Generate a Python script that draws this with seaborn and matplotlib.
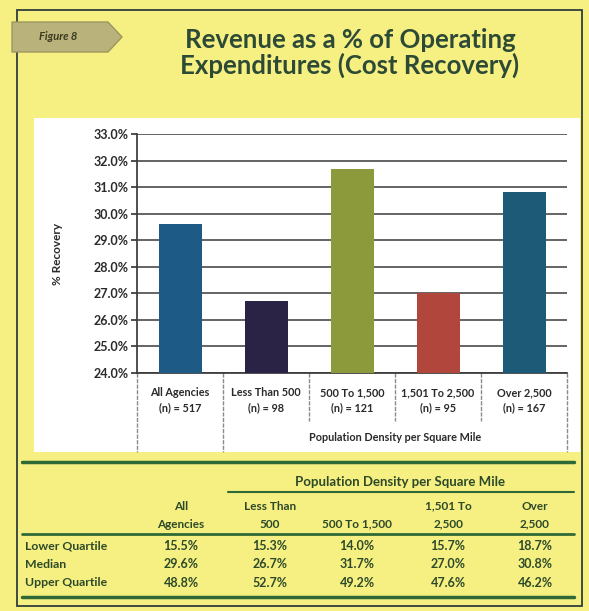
import matplotlib
matplotlib.use("Agg")
import matplotlib.pyplot as plt
from matplotlib.lines import Line2D
from matplotlib.patches import Rectangle, Polygon
import seaborn as sns
import pandas as pd

# ---- data ----
categories = ["All Agencies", "Less Than 500", "500 To 1,500", "1,501 To 2,500", "Over 2,500"]
n_counts = [517, 98, 121, 95, 167]
median_recovery = [29.6, 26.7, 31.7, 27.0, 30.8]
lower_quartile = [15.5, 15.3, 14.0, 15.7, 18.7]
upper_quartile = [48.8, 52.7, 49.2, 47.6, 46.2]
table_headers = [("All", "Agencies"), ("Less Than", "500"), ("", "500 To 1,500"),
                 ("1,501 To", "2,500"), ("Over", "2,500")]
row_names = ["Lower Quartile", "Median", "Upper Quartile"]
bar_colors = ["#1d5a86", "#2a2346", "#8c9a3c", "#b0463c", "#1c5a78"]

df = pd.DataFrame({
    "label": [f"{c}\n(n) = {n}" for c, n in zip(categories, n_counts)],
    "recovery": median_recovery,
})

W, H = 589, 611
sns.set_theme(style="white")
plt.rcParams["font.family"] = ["Lato", "DejaVu Sans"]

fig = plt.figure(figsize=(W / 100, H / 100), dpi=100)
fig.patch.set_facecolor("#f6ef82")

def fx(x):
    return x / W

def fy(y):
    return 1 - y / H

# page frame and white chart panel (behind the axes)
fig.add_artist(Rectangle((fx(17), fy(606)), fx(582) - fx(17), fy(10) - fy(606),
                         transform=fig.transFigure, fill=False, lw=1.3,
                         edgecolor="#2f3f3a", zorder=-5))
fig.add_artist(Rectangle((fx(34), fy(452)), fx(580) - fx(34), fy(118) - fy(452),
                         transform=fig.transFigure, facecolor="white",
                         edgecolor="none", zorder=-4))

# "Figure 8" tab
tab = Polygon([(fx(12), fy(22)), (fx(108), fy(22)), (fx(122), fy(37)),
               (fx(108), fy(52)), (fx(12), fy(52))], closed=True,
              transform=fig.transFigure, facecolor="#b9b27a", edgecolor="#9c9660", lw=1)
fig.add_artist(tab)
fig.text(fx(58), fy(37), "Figure 8", ha="center", va="center", fontsize=8,
         fontweight="bold", style="italic", color="#3a3a22")

# title
fig.text(fx(350), fy(53), "Revenue as a % of Operating\nExpenditures (Cost Recovery)",
         ha="center", va="center", fontsize=18.5, fontweight="bold",
         color="#2c4a36", linespacing=1.05)

# ---- bar chart ----
ax = fig.add_axes([fx(137), fy(373), fx(567) - fx(137), fy(134) - fy(373)])
ax.set_facecolor("white")
sns.barplot(data=df, x="label", y="recovery", hue="label", palette=bar_colors,
            width=0.5, legend=False, ax=ax, zorder=3, saturation=1, linewidth=0)
ax.set_ylim(24, 33)
ax.set_yticks([24 + i for i in range(10)])
ax.set_yticklabels([f"{24 + i:.1f}%" for i in range(10)], fontsize=9,
                   fontweight="bold", color="#2a2a2a")
ax.yaxis.grid(True, color="#3a3a3a", lw=1.1, zorder=0)
ax.set_axisbelow(True)
ax.set_xlim(-0.5, len(categories) - 0.5)
ax.set_xticks(range(len(categories)))
ax.set_xticklabels(df["label"], fontsize=7.8, fontweight="bold", color="#2a2a2a",
                   linespacing=1.5)
ax.tick_params(axis="x", length=0, pad=10)
ax.tick_params(axis="y", length=4, color="#3a3a3a", left=True, pad=2)
ax.set_xlabel("")
ax.set_ylabel("% Recovery", fontsize=8.5, fontweight="bold", color="#2a2a2a",
              labelpad=22)
for side in ["top", "right"]:
    ax.spines[side].set_visible(False)
ax.spines["left"].set_color("#3a3a3a")
ax.spines["bottom"].set_color("#3a3a3a")

# category dividers below the axis
xt = ax.get_xaxis_transform()
for i in range(len(categories) + 1):
    x = i - 0.5
    long = i in (0, 1, len(categories))
    ax.plot([x, x], [0, -0.33 if long else -0.2], transform=xt, color="#8a8a8a",
            lw=1, ls=(0, (3, 1)), clip_on=False)
ax.text(2.5, -0.27, "Population Density per Square Mile", transform=xt,
        ha="center", va="center", fontsize=7.8, fontweight="bold", color="#2a2a2a")

# ---- quartile table ----
green = "#2f6a36"
def hline(x0, x1, y, lw=2.0):
    fig.add_artist(Line2D([fx(x0), fx(x1)], [fy(y), fy(y)], transform=fig.transFigure,
                          color=green, lw=lw))

hline(22, 574, 462, 2.5)
hline(228, 574, 492, 1.5)
hline(22, 574, 534, 2.0)
hline(22, 574, 597, 2.5)

text_color = "#2c4a2a"
fig.text(fx(400), fy(482), "Population Density per Square Mile", ha="center",
         va="center", fontsize=9.5, fontweight="bold", color=text_color)
col_x = [181, 270, 357, 448, 535]
for x, (top, bottom) in zip(col_x, table_headers):
    if top:
        fig.text(fx(x), fy(506), top, ha="center", va="center", fontsize=8.5,
                 fontweight="bold", color=text_color)
    fig.text(fx(x), fy(524), bottom, ha="center", va="center", fontsize=8.5,
             fontweight="bold", color=text_color)

rows = [lower_quartile, median_recovery, upper_quartile]
row_y = [546, 564, 583]
for name, values, y in zip(row_names, rows, row_y):
    fig.text(fx(25), fy(y), name, ha="left", va="center", fontsize=8.8,
             fontweight="bold", color=text_color)
    for x, v in zip(col_x, values):
        fig.text(fx(x), fy(y), f"{v:.1f}%", ha="center", va="center", fontsize=9,
                 fontweight="bold", color=text_color)

fig.savefig("out.png", dpi=100, facecolor=fig.get_facecolor())
